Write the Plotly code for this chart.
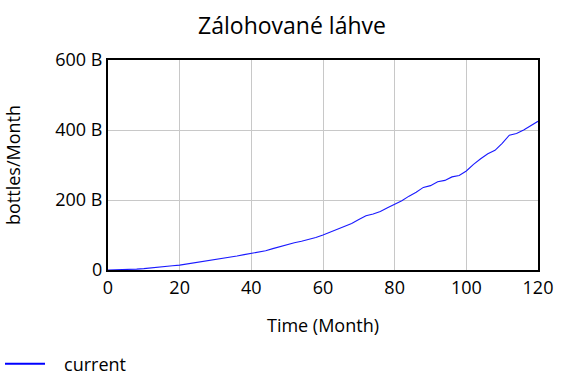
import plotly.graph_objects as go

months = [0, 2, 4, 6, 8, 10, 12, 14, 16, 18, 20, 22, 24, 26, 28, 30, 32, 34, 36, 38, 40,
          42, 44, 46, 48, 50, 52, 54, 56, 58, 60, 62, 64, 66, 68, 70, 72, 74, 76, 78, 80,
          82, 84, 86, 88, 90, 92, 94, 96, 98, 100, 102, 104, 106, 108, 110, 112, 114, 116, 118, 120]
current_billions = [0, 0.3, 0.8, 1.5, 2.5, 4, 5.5, 7.5, 9.5, 12, 14, 17, 21, 24, 26, 29, 34, 37, 40, 44, 48,
                    50, 55, 61, 67, 73, 78, 82, 87, 93, 100, 108, 118, 124, 133, 144, 155, 160, 167, 178, 188,
                    198, 211, 222, 236, 241, 252, 256, 266, 270, 283, 302, 318, 332, 342, 362, 385, 390, 400, 412, 425]
current = [v * 1e9 for v in current_billions]

y_tickvals = [0, 200e9, 400e9, 600e9]
y_ticktext = ["0", "200 B", "400 B", "600 B"]
x_tickvals = [0, 20, 40, 60, 80, 100, 120]

font = "Open Sans"

fig = go.Figure()
fig.add_trace(go.Scatter(x=months, y=current, mode="lines", name="current", showlegend=False,
                         line=dict(color="#1a1aff", width=1.1)))
# legend entry (thicker line as in the reference legend); NBSPs give the gap before the text
fig.add_trace(go.Scatter(x=[None], y=[None], mode="lines", name="\u00a0\u00a0\u00a0current", showlegend=True,
                         line=dict(color="#0000ff", width=2)))

fig.update_layout(
    width=576, height=384,
    margin=dict(l=108, r=38, t=60, b=114),
    paper_bgcolor="white", plot_bgcolor="white",
    font=dict(family=font, size=18, color="black"),
    title=dict(text="Zálohované láhve", x=292 / 576, xref="container", xanchor="center",
               y=1 - 26 / 384, yref="container", yanchor="middle",
               font=dict(size=23, family=font, color="black")),
    xaxis=dict(range=[0, 120], tickvals=x_tickvals, showgrid=True, gridcolor="#c8c8c8", gridwidth=1,
               showline=True, linecolor="black", linewidth=2, mirror=True, ticks="",
               zeroline=False, title=dict(text="Time (Month)", font=dict(size=18), standoff=22),
               tickfont=dict(size=18)),
    yaxis=dict(range=[0, 600e9], tickvals=y_tickvals, ticktext=y_ticktext, showgrid=True,
               gridcolor="#c8c8c8", gridwidth=1, showline=True, linecolor="black", linewidth=2,
               mirror=True, ticks="", zeroline=False,
               title=dict(text="bottles/Month", font=dict(size=18), standoff=30),
               tickfont=dict(size=18)),
    showlegend=True,
    legend=dict(x=0, xref="container", y=(384 - 364) / 384, yref="container",
                xanchor="left", yanchor="middle", itemwidth=40,
                orientation="h", font=dict(size=18), bgcolor="rgba(0,0,0,0)"),
)

fig.write_html("out.html")
